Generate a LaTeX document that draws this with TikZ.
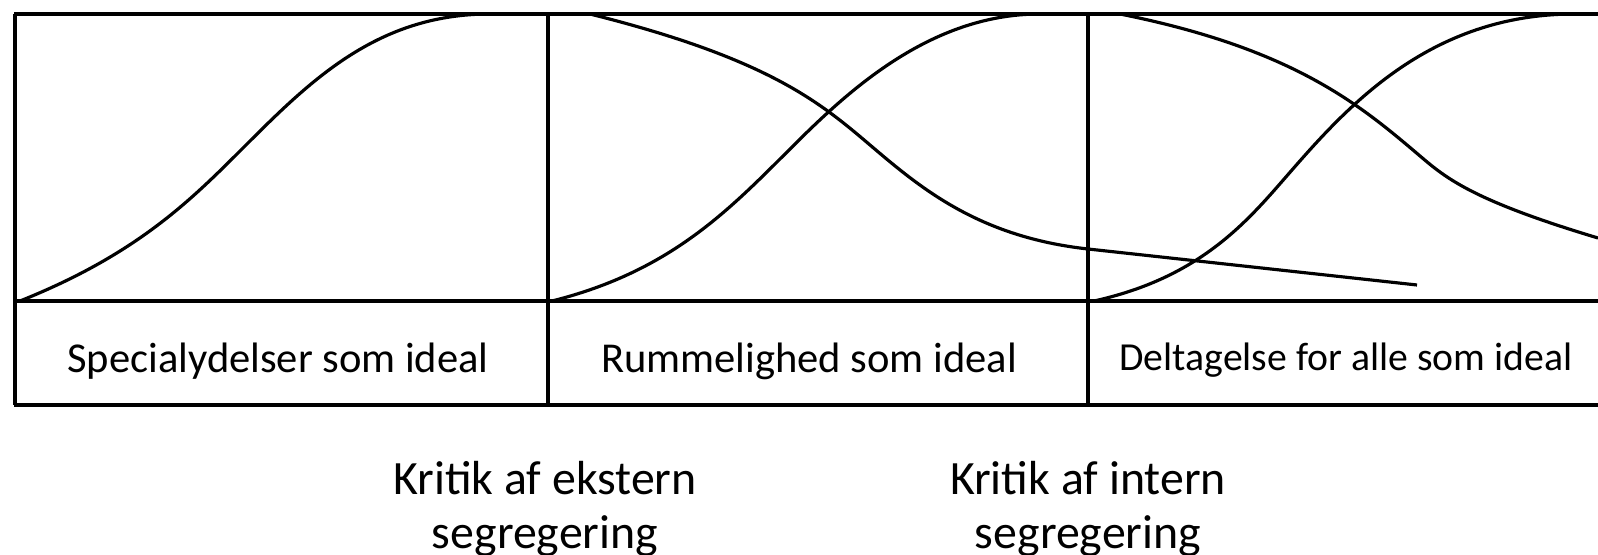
\documentclass[tikz,border=0pt]{standalone}
\usepackage{fontspec}
\setmainfont{Carlito}
\begin{document}
\begin{tikzpicture}[x=0.01cm,y=-0.01cm,
  frame/.style={line width=1.3pt},
  curve/.style={line width=0.9pt, line join=round},
  lbl/.style={anchor=base, inner sep=0pt, font=\fontsize{12.1}{14}\selectfont},
  lblsmall/.style={lbl, font=\fontsize{11.3}{13}\selectfont},
  crit/.style={anchor=base, inner sep=0pt, font=\fontsize{13.6}{16}\selectfont}]
\fill[white] (0,0) rectangle (1598,555);
\useasboundingbox (0,0) rectangle (1598,555);
% frame
\draw[frame] (14,14) -- (1598,14);
\draw[frame] (14,301) -- (1598,301);
\draw[frame] (14,405) -- (1598,405);
\draw[frame] (15,14) -- (15,405);
\draw[frame] (548,14) -- (548,405);
\draw[frame] (1088,14) -- (1088,405);
% panel 1 rising
\draw[curve] (20,301) .. controls (136.7,254.3) and (190,201) .. (243,148)
  .. controls (310,81) and (377,14) .. (490,14);
% panel 2 rising
\draw[curve] (552,301) .. controls (666.7,272.3) and (725,214) .. (785,154)
  .. controls (840,99) and (925,14) .. (1040,14);
% panel 2 falling, continuing as a straight line into panel 3
\draw[curve] (590,14) .. controls (768.3,58.6) and (820,102.5) .. (870,145)
  .. controls (920,187.5) and (978.1,236.9) .. (1088,249) -- (1417,285);
% panel 3 rising
\draw[curve] (1094,301) .. controls (1197.9,278.1) and (1245,224) .. (1285,178)
  .. controls (1345,109) and (1427.6,14) .. (1575,14);
% panel 3 falling
\draw[curve] (1120,14) .. controls (1293.8,48.8) and (1360,105) .. (1420,156)
  .. controls (1446,178.1) and (1472,200.2) .. (1598,238);
% labels
\node[lbl] (l1) at (278,372) {Specialydelser som ideal};
\node[lbl] (l2) at (809,372) {Rummelighed som ideal};
\node[lblsmall] (l3) at (1346,370) {Deltagelse for alle som ideal};
\node[crit] (k1a) at (545,494) {Kritik af ekstern};
\node[crit] (k1b) at (545,548) {segregering};
\node[crit] (k2a) at (1088,494) {Kritik af intern};
\node[crit] (k2b) at (1088,548) {segregering};
\end{tikzpicture}
\end{document}
